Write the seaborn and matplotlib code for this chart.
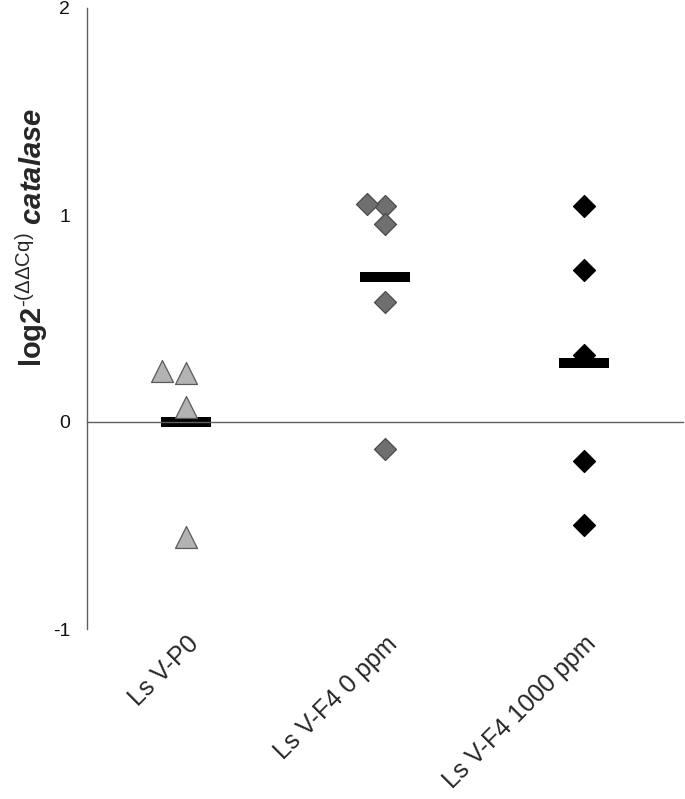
import numpy as np
import pandas as pd
import matplotlib
matplotlib.use('Agg')
import matplotlib.pyplot as plt
import seaborn as sns

# Data
groups = ['Ls V-P0', 'Ls V-F4 0 ppm', 'Ls V-F4 1000 ppm']
p0_values = [0.237, 0.246, 0.072, -0.556]
f4_0_values = [1.043, 1.053, 0.957, 0.580, -0.130]
f4_1000_values = [1.043, 0.734, 0.324, -0.188, -0.498]

df = pd.DataFrame({
    'group': [groups[0]] * len(p0_values) + [groups[1]] * len(f4_0_values)
             + [groups[2]] * len(f4_1000_values),
    'value': p0_values + f4_0_values + f4_1000_values,
})

sns.set_style('white')
plt.rcParams['font.family'] = ['Liberation Sans', 'DejaVu Sans']
plt.rcParams['mathtext.fontset'] = 'custom'
plt.rcParams['mathtext.rm'] = 'Liberation Sans'
plt.rcParams['mathtext.bf'] = 'Liberation Sans:bold'
plt.rcParams['mathtext.it'] = 'Liberation Sans:italic'
plt.rcParams['mathtext.bfit'] = 'Liberation Sans:italic:bold'

fig = plt.figure(figsize=(6.85, 7.99), dpi=100)
ax = fig.add_axes([87 / 685, 1 - 629 / 799, 596 / 685, 621 / 799])

# marker style per group
styles = [
    dict(marker='^', size=15.8, color='#b3b3b3', edgecolor='#5a5a5a', linewidth=0.9),
    dict(marker='D', size=11.2, color='#6f6f6f', edgecolor='#4a4a4a', linewidth=0.9),
    dict(marker='D', size=11.2, color='#000000', edgecolor='#000000', linewidth=0.9),
]
for g, st in zip(groups, styles):
    sns.swarmplot(data=df[df['group'] == g], x='group', y='value', order=groups,
                  ax=ax, **st)

# mean bars
sns.pointplot(data=df, x='group', y='value', order=groups, estimator='mean',
              errorbar=None, markers='_', linestyles='none', color='black',
              markersize=36, markeredgewidth=7.2, ax=ax)

ax.set_xlim(-0.5, 2.5)
ax.set_ylim(-1, 2)
ax.set_yticks([-1, 0, 1, 2])
ax.set_yticklabels(['-1', '0', '1', '2'])

spine_col = '#606060'
for s in ['top', 'right']:
    ax.spines[s].set_visible(False)
ax.spines['left'].set_color(spine_col)
ax.spines['left'].set_linewidth(1.0)
ax.spines['bottom'].set_position(('data', 0))
ax.spines['bottom'].set_color(spine_col)
ax.spines['bottom'].set_linewidth(1.0)

ax.set_xticks([0.5, 1.5, 2.5])
ax.set_xticklabels([])
ax.tick_params(axis='x', direction='out', length=4, width=1, color=spine_col)
ax.tick_params(axis='y', direction='out', length=4, width=1, color=spine_col,
               labelsize=14, pad=8, labelcolor='#111111')
ax.set_xlabel('')

# category labels along the bottom of the axes
secax = ax.secondary_xaxis('bottom')
secax.spines['bottom'].set_visible(False)
secax.set_xticks(range(len(groups)))
secax.set_xticklabels(groups, rotation=45, ha='right', va='top',
                      rotation_mode='anchor', fontsize=18)
secax.tick_params(axis='x', length=0, pad=2)

ax.set_ylabel(r'log2$^{\text{-(}\Delta\Delta\text{Cq)}}$ $\mathbfit{catalase}$',
              fontsize=21, fontweight='bold')
ax.yaxis.set_label_coords(-0.062, 0.63)

fig.savefig('out.png', dpi=100)
